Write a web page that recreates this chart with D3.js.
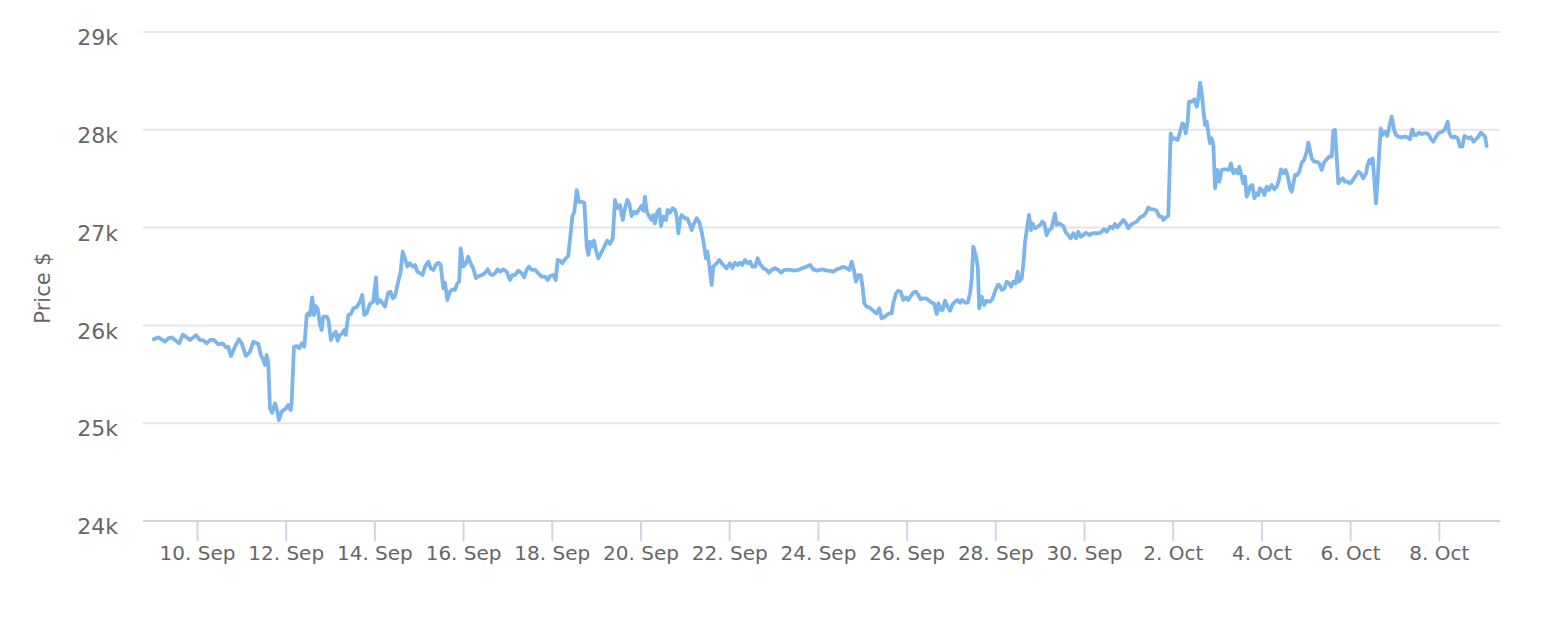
<!DOCTYPE html>
<html><head><meta charset="utf-8">
<script src="https://cdn.jsdelivr.net/npm/d3@7"></script>
<style>
body{margin:0;background:#fff}
svg text{font-family:"DejaVu Sans","Liberation Sans",Arial,sans-serif;fill:#666666}
</style>
</head><body>
<svg id="chart" width="1560" height="620"></svg>
<script>
// Start of the series (UTC); times below are hours since this moment
const startDate = "2023-09-09T00:00:00Z";

const hours = [
0.7,3.1,4.9,6.7,8.5,10.3,12.1,14.4,16.3,18.4,20.2,23.5,25.6,27.8,29.2,31.0,33.2,35.5,37.9,39.7,40.9,42.4,44.6,46.7,48.2,50.5,52.7,54.5,56.3,
57.2,58.6,59.9,60.8,61.7,62.6,63.5,64.7,66.2,67.1,68.4,69.8,71.6,73.4,74.7,75.2,76.5,78.0,79.4,80.7,82.1,83.4,84.2,85.1,86.4,87.3,88.2,89.3,90.6,91.5,92.3,94.2,95.1,96.5,97.8,99.1,100.1,101.4,102.6,103.7,104.5,105.9,107.3,108.6,110.4,112.2,113.5,114.5,115.8,
117.6,119.4,120.9,121.6,123.0,124.5,125.7,127.5,128.8,129.9,131.1,132.9,134.2,135.3,136.6,137.8,139.3,140.7,142.0,143.2,144.7,146.1,147.4,149.2,150.5,151.9,153.3,154.6,155.9,157.3,158.2,159.5,160.9,162.4,163.6,164.9,165.9,166.7,168.1,169.6,170.8,172.1,173.5,175.0,176.2,178.1,
179.8,181.3,182.6,183.8,185.3,186.7,188.0,189.8,191.6,193.4,194.6,196.1,197.9,199.7,201.1,202.4,203.7,205.1,206.9,208.7,210.5,212.3,213.8,215.0,216.8,218.1,219.2,220.4,221.7,223.1,224.9,226.4,227.1,228.2,229.5,230.7,232.2,233.6,234.3,234.9,235.8,236.7,237.6,238.8,239.9,241.2,
243.5,244.8,246.0,247.5,249.0,250.2,251.4,252.9,254.4,255.6,256.9,257.9,259.2,260.5,261.9,263.3,264.6,265.5,266.4,267.4,268.8,270.1,270.9,271.8,273.1,274.2,275.1,276.3,277.8,278.7,280.0,281.4,282.7,283.6,284.5,285.4,286.3,288.1,289.3,290.8,291.7,292.6,294.4,295.7,297.1,298.4,299.4,300.2,301.2,302.5,303.4,305.2,306.6,
308.8,310.6,312.4,313.7,315.1,316.6,317.8,319.1,320.5,322.0,323.3,324.5,326.0,327.4,328.7,330.5,332.3,333.5,335.0,336.8,338.6,340.0,341.8,343.7,345.4,347.2,349.4,351.6,353.9,355.7,357.5,359.4,361.1,362.9,364.8,366.5,
368.3,370.2,372.0,373.7,375.6,377.0,378.3,379.5,380.6,381.9,383.2,384.2,385.1,386.4,387.8,389.1,390.5,391.8,393.2,394.5,395.8,397.2,398.6,399.9,400.8,402.3,403.5,404.8,406.2,407.7,408.9,410.2,411.6,413.1,414.3,415.6,417.0,418.5,419.7,421.6,422.8,424.3,425.2,426.5,427.5,428.8,
430.2,431.5,432.7,434.2,435.6,436.9,438.1,439.6,441.1,442.3,443.2,444.1,445.4,446.5,447.3,448.6,450.0,451.3,453.1,454.4,455.8,457.3,458.2,459.5,460.9,462.2,463.4,464.5,465.7,467.0,468.1,468.8,470.3,471.2,472.1,473.0,474.2,475.3,476.0,477.5,479.0,480.2,481.4,482.5,483.8,485.1,486.5,488.3,489.2,490.5,
492.8,494.3,495.5,496.8,498.2,499.7,500.9,502.2,503.6,505.1,506.9,508.7,510.9,513.0,514.8,516.3,518.1,519.5,520.8,522.0,523.5,525.3,526.7,528.0,529.3,530.7,532.5,534.3,536.1,537.6,538.8,540.1,541.9,543.3,544.8,546.0,546.9,548.4,549.6,550.9,552.0,553.2,
554.7,556.0,557.2,558.3,559.0,560.1,560.8,562.3,563.7,565.0,565.8,566.8,567.7,568.6,569.5,570.4,571.3,572.2,573.1,574.0,574.9,576.1,577.2,578.5,579.9,581.2,582.5,583.5,584.8,586.1,587.2,588.0,589.3,590.2,591.1,592.0,592.9,593.8,595.1,596.2,597.5,598.3,599.2,600.5,601.6,602.9,604.1,605.6,607.0,608.3,609.5,610.6,611.9,613.1,614.2,615.5,
616.4,617.3,618.2,619.4,620.5,621.8,623.1,624.5,625.4,626.3,627.2,628.5,629.9,631.3,632.6,633.9,635.3,636.7,638.0,638.9,639.8,640.7,641.6,642.9,644.0,645.2,646.5,647.9,648.9,650.7,652.4,653.7,655.1,656.6,657.3,658.4,659.1,660.2,661.1,662.0,662.9,663.8,664.6,665.6,666.9,668.1,669.6,670.5,671.8,672.8,674.1,675.9,677.7,
679.2,680.4,681.7,682.7,684.0,685.3,686.7,688.2,689.5,690.7,691.8,693.0,694.3,695.7,697.6,699.0,699.7,700.8,701.5,702.6,703.8,704.8,706.2,707.5,708.7,709.8,711.1,712.3,713.4,714.7,716.0,717.4,718.8,720.1,721.0,721.9
];

const prices = [
25858,25878,25858,25833,25868,25878,25851,25817,25905,25878,25851,25899,25851,25844,25817,25851,25851,25807,25817,25776,25782,25687,25782,25858,25817,25687,25731,25833,25817,
25810,25697,25646,25595,25697,25612,25152,25107,25203,25152,25033,25118,25142,25186,25135,25203,25782,25789,25766,25817,25782,26106,26123,26106,26287,26106,26198,26174,26004,25953,26089,26089,26055,25851,25902,25936,25844,25902,25919,25953,25902,26106,26117,26174,26185,26242,26311,26106,26123,
26220,26242,26492,26226,26260,26226,26191,26335,26345,26277,26294,26447,26549,26754,26686,26601,26635,26601,26618,26549,26533,26515,26601,26652,26584,26567,26618,26641,26618,26379,26437,26260,26345,26369,26362,26430,26447,26788,26601,26635,26703,26635,26584,26482,26499,26515,
26533,26573,26526,26515,26533,26573,26549,26573,26549,26464,26515,26515,26559,26533,26492,26567,26601,26567,26567,26533,26499,26499,26464,26505,26515,26464,26669,26662,26635,26676,26710,26975,27111,27163,27384,27264,27264,27254,27009,26805,26720,26856,26805,26866,26771,26686,
26771,26822,26866,26832,26890,27282,27197,27231,27078,27197,27282,27248,27119,27163,27146,27187,27221,27173,27316,27163,27112,27078,27129,27044,27163,27187,27016,27112,27078,27180,27153,27197,27180,27112,26942,27078,27129,27095,27095,27027,26975,27027,27095,27061,26958,26822,26686,26754,26618,26413,26601,26635,26669,
26618,26584,26635,26584,26641,26618,26641,26618,26669,26635,26652,26601,26601,26686,26628,26584,26567,26539,26567,26584,26567,26539,26567,26567,26567,26560,26567,26584,26601,26618,26573,26560,26567,26573,26560,26558,
26549,26573,26584,26601,26584,26567,26652,26567,26447,26515,26515,26396,26226,26191,26185,26164,26140,26123,26174,26072,26083,26106,26123,26123,26226,26328,26355,26345,26260,26287,26260,26300,26335,26345,26311,26267,26277,26277,26260,26232,26226,26117,26226,26158,26158,26253,
26191,26150,26208,26242,26260,26232,26260,26232,26232,26328,26464,26805,26720,26601,26174,26294,26208,26253,26242,26267,26345,26413,26413,26362,26379,26447,26430,26396,26447,26430,26549,26447,26482,26635,26856,26975,27129,26975,27044,26993,27009,27027,27061,27044,26924,26975,26993,27146,27027,27044,
27016,26948,26924,26890,26942,26890,26958,26907,26924,26948,26924,26942,26942,26948,26983,26958,27009,26993,27037,27003,27037,27078,27044,26993,27027,27044,27061,27105,27119,27153,27207,27187,27187,27173,27112,27112,27078,27105,27119,27964,27903,27913,
27896,27981,28066,28049,27964,28083,28287,28287,28312,28236,28315,28482,28373,28202,28049,28083,27964,27862,27913,27845,27402,27590,27470,27590,27596,27596,27590,27657,27555,27590,27555,27623,27528,27453,27521,27316,27351,27419,27436,27300,27351,27333,27402,27385,27333,27419,27385,27436,27392,27419,27487,27596,27555,27590,27528,27400,
27367,27453,27538,27538,27572,27664,27691,27776,27868,27793,27708,27674,27674,27657,27590,27664,27698,27725,27725,27991,27998,27725,27453,27487,27504,27470,27470,27453,27470,27521,27572,27555,27504,27555,27630,27691,27657,27708,27487,27248,27487,27793,28015,27947,27981,27937,28066,28134,27998,27947,27930,27923,27930,
27923,27903,28005,27947,27947,27971,27957,27964,27964,27947,27903,27879,27923,27964,27981,27998,28025,28083,27981,27930,27923,27930,27913,27828,27828,27937,27923,27913,27923,27879,27903,27930,27971,27947,27930,27834
];

const yTickValues = [24000, 25000, 26000, 27000, 28000, 29000];
const yTickLabels = ["24k", "25k", "26k", "27k", "28k", "29k"];
const xTickDates = ["2023-09-10","2023-09-12","2023-09-14","2023-09-16","2023-09-18","2023-09-20","2023-09-22","2023-09-24","2023-09-26","2023-09-28","2023-09-30","2023-10-02","2023-10-04","2023-10-06","2023-10-08"];
const yAxisTitle = "Price $";

const HOUR = 3600 * 1000;
const t0 = new Date(startDate).getTime();
const data = hours.map((h, i) => ({ t: new Date(t0 + h * HOUR), v: prices[i] }));

const plot = { left: 143, right: 1500, top: 32, bottom: 521 };

const x = d3.scaleUtc()
  .domain([new Date(t0 - 5.2 * HOUR), new Date(t0 + 729.1 * HOUR)])
  .range([plot.left, plot.right]);
const y = d3.scaleLinear().domain([24000, 29000]).range([plot.bottom, plot.top]);

const svg = d3.select("#chart");

// horizontal grid lines
svg.append("g").selectAll("line").data(yTickValues).join("line")
  .attr("x1", plot.left).attr("x2", plot.right)
  .attr("y1", d => y(d)).attr("y2", d => y(d))
  .attr("stroke", "#e6e6e6").attr("stroke-width", 2);

// y axis labels
const yAxis = d3.axisLeft(y).tickValues(yTickValues)
  .tickFormat((d, i) => yTickLabels[i]).tickSize(0).tickPadding(0);
const gy = svg.append("g").attr("transform", `translate(${plot.left - 25},5)`).call(yAxis);
gy.select(".domain").remove();
gy.selectAll("text").attr("font-size", 22).attr("fill", "#666666")
  .attr("font-family", "DejaVu Sans, Liberation Sans, sans-serif").attr("dy", "0.35em");

// x axis
const xTicks = xTickDates.map(s => new Date(s + "T00:00:00Z"));
const xAxis = d3.axisBottom(x).tickValues(xTicks)
  .tickFormat(d3.utcFormat("%-d. %b")).tickSize(20).tickPadding(5);
const gx = svg.append("g").attr("transform", `translate(0,${plot.bottom})`).call(xAxis);
gx.select(".domain").attr("stroke", "#ccd6eb").attr("stroke-width", 2)
  .attr("d", `M${plot.left},0H${plot.right}`);
gx.selectAll(".tick line").attr("stroke", "#ccd6eb").attr("stroke-width", 2);
gx.selectAll("text").attr("font-size", 20).attr("fill", "#666666")
  .attr("font-family", "DejaVu Sans, Liberation Sans, sans-serif");

// y axis title
svg.append("text")
  .attr("transform", `translate(50,288) rotate(-90)`)
  .attr("text-anchor", "middle")
  .attr("font-size", 21).attr("fill", "#666666")
  .text(yAxisTitle);

// series line
const line = d3.line().x(d => x(d.t)).y(d => y(d.v));
svg.append("path").datum(data)
  .attr("fill", "none").attr("stroke", "#7cb5ec")
  .attr("stroke-width", 3.8).attr("stroke-linejoin", "round").attr("stroke-linecap", "round")
  .attr("d", line);
</script>
</body></html>
